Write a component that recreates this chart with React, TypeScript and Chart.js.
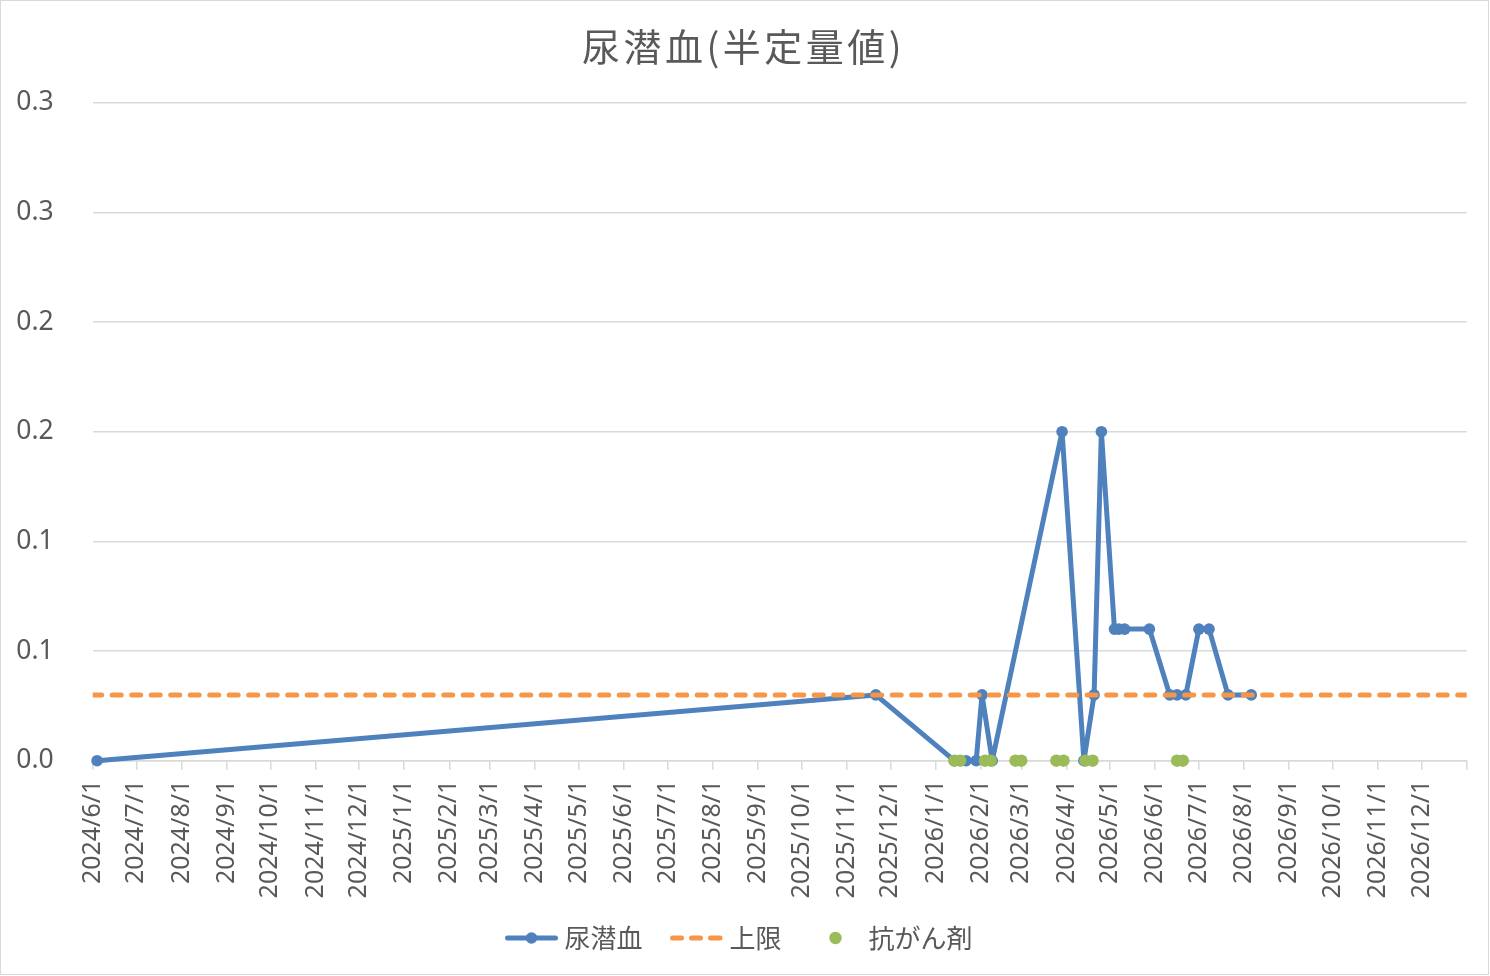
import { useEffect, useRef } from "react";
import { Chart, registerables } from "chart.js";

Chart.register(...registerables);

const TITLE = "尿潜血(半定量値)";
const AXIS_START = "2024/6/1";
const AXIS_END = "2027/1/1";

const bloodLabel = "尿潜血";
const bloodDates = [
  "2024/6/4", "2025/11/21", "2026/1/14", "2026/1/22", "2026/1/29", "2026/2/2",
  "2026/2/9", "2026/3/29", "2026/4/13", "2026/4/20", "2026/4/25", "2026/5/4",
  "2026/5/7", "2026/5/11", "2026/5/28", "2026/6/11", "2026/6/16", "2026/6/22",
  "2026/7/1", "2026/7/8", "2026/7/21", "2026/8/6",
];
const bloodValues = [
  0, 0.03, 0, 0, 0, 0.03,
  0, 0.15, 0, 0.03, 0.15, 0.06,
  0.06, 0.06, 0.06, 0.03, 0.03, 0.03,
  0.06, 0.06, 0.03, 0.03,
];

const limitLabel = "上限";
const limitDates = ["2024/6/1", "2027/1/1"];
const limitValues = [0.03, 0.03];

const drugLabel = "抗がん剤";
const drugDates = [
  "2026/1/14", "2026/1/18", "2026/2/4", "2026/2/8", "2026/2/25", "2026/3/1",
  "2026/3/25", "2026/3/30", "2026/4/14", "2026/4/19", "2026/6/16", "2026/6/20",
];
const drugValues = [0, 0, 0, 0, 0, 0, 0, 0, 0, 0, 0, 0];

const yTickValues = [0, 0.05, 0.1, 0.15, 0.2, 0.25, 0.3];
const yTickLabels = ["0.0", "0.1", "0.1", "0.2", "0.2", "0.3", "0.3"];

const BLUE = "#4F81BD";
const ORANGE = "#F79646";
const GREEN = "#9BBB59";
const TEXT = "#595959";
const GRID = "#d9d9d9";
const FONT = "'Noto Sans', 'Noto Sans CJK JP', sans-serif";
const CJK = "'Noto Sans CJK JP', sans-serif";

function parseDate(s: string): number {
  const [y, m, d] = s.split("/").map(Number);
  return Date.UTC(y, m - 1, d);
}
const START_MS = parseDate(AXIS_START);
function dayIndex(s: string): number {
  return Math.round((parseDate(s) - START_MS) / 86400000);
}

// monthly tick marks from axis start to axis end
const xTickDates: string[] = [];
{
  let y = 2024;
  let m = 6;
  for (;;) {
    const s = `${y}/${m}/1`;
    xTickDates.push(s);
    if (s === AXIS_END) break;
    m += 1;
    if (m > 12) {
      m = 1;
      y += 1;
    }
  }
}
const xTickLabels = xTickDates.map((s) => (s === AXIS_END ? "" : s));

function makeSymbol(kind: "line" | "dash" | "dot"): HTMLCanvasElement {
  const c = document.createElement("canvas");
  c.width = 53;
  c.height = 14;
  const ctx = c.getContext("2d")!;
  const cy = 7;
  if (kind === "line") {
    ctx.strokeStyle = BLUE;
    ctx.lineWidth = 5;
    ctx.lineCap = "round";
    ctx.beginPath();
    ctx.moveTo(2.5, cy);
    ctx.lineTo(50.5, cy);
    ctx.stroke();
    ctx.fillStyle = BLUE;
    ctx.beginPath();
    ctx.arc(26.5, cy, 5.8, 0, Math.PI * 2);
    ctx.fill();
  } else if (kind === "dash") {
    ctx.strokeStyle = ORANGE;
    ctx.lineWidth = 5;
    ctx.lineCap = "round";
    const segs = [
      [2.5, 11.5],
      [21.5, 30.5],
      [40.5, 50],
    ];
    for (const [a, b] of segs) {
      ctx.beginPath();
      ctx.moveTo(a, cy);
      ctx.lineTo(b, cy);
      ctx.stroke();
    }
  } else {
    ctx.fillStyle = GREEN;
    ctx.beginPath();
    ctx.arc(26.5, cy, 6.2, 0, Math.PI * 2);
    ctx.fill();
  }
  return c;
}

const titlePlugin = {
  id: "excelTitle",
  afterDraw(chart: any) {
    const ctx = chart.ctx as CanvasRenderingContext2D;
    ctx.save();
    ctx.font = `normal 38px ${CJK}`;
    ctx.fillStyle = TEXT;
    ctx.textAlign = "center";
    ctx.textBaseline = "middle";
    (ctx as any).letterSpacing = "3.5px";
    ctx.fillText(TITLE, 743.5, 47);
    ctx.restore();
  },
};

export default function App() {
  const ref = useRef<HTMLCanvasElement | null>(null);

  useEffect(() => {
    if (!ref.current) return;
    const symBlood = makeSymbol("line");
    const symLimit = makeSymbol("dash");
    const symDrug = makeSymbol("dot");

    const toPoints = (dates: string[], values: number[]) =>
      dates.map((d, i) => ({ x: dayIndex(d), y: values[i] }));

    const chart = new Chart(ref.current, {
      type: "line",
      plugins: [titlePlugin],
      data: {
        datasets: [
          {
            label: bloodLabel,
            data: toPoints(bloodDates, bloodValues),
            borderColor: BLUE,
            backgroundColor: BLUE,
            borderWidth: 5,
            borderJoinStyle: "round",
            borderCapStyle: "round",
            pointRadius: 5.8,
            pointBackgroundColor: BLUE,
            pointBorderColor: BLUE,
            pointBorderWidth: 0,
            tension: 0,
            clip: 8,
            order: 3,
          },
          {
            label: limitLabel,
            data: toPoints(limitDates, limitValues),
            borderColor: ORANGE,
            backgroundColor: ORANGE,
            borderWidth: 5,
            borderDash: [9, 10.5],
            borderCapStyle: "round",
            pointRadius: 0,
            tension: 0,
            order: 2,
          },
          {
            label: drugLabel,
            data: toPoints(drugDates, drugValues),
            showLine: false,
            borderColor: GREEN,
            backgroundColor: GREEN,
            pointRadius: 6.2,
            pointBackgroundColor: GREEN,
            pointBorderColor: GREEN,
            pointBorderWidth: 0,
            clip: 8,
            order: 1,
          },
        ],
      },
      options: {
        animation: false,
        responsive: true,
        maintainAspectRatio: false,
        events: [],
        layout: { padding: { left: 0, right: 6, top: 102.7, bottom: 15 } },
        font: { family: FONT },
        plugins: {
          title: { display: false },
          legend: {
            display: true,
            position: "bottom",
            labels: {
              usePointStyle: true,
              pointStyleWidth: 40,
              padding: 34,
              color: TEXT,
              font: { size: 26, family: CJK },
              generateLabels: () => [
                { text: bloodLabel, pointStyle: symBlood, fillStyle: BLUE, strokeStyle: BLUE, lineWidth: 0, hidden: false, datasetIndex: 0, fontColor: TEXT },
                { text: limitLabel, pointStyle: symLimit, fillStyle: ORANGE, strokeStyle: ORANGE, lineWidth: 0, hidden: false, datasetIndex: 1, fontColor: TEXT },
                { text: drugLabel, pointStyle: symDrug, fillStyle: GREEN, strokeStyle: GREEN, lineWidth: 0, hidden: false, datasetIndex: 2, fontColor: TEXT },
              ] as any,
            },
          },
          tooltip: { enabled: false },
        },
        scales: {
          x: {
            type: "linear",
            min: dayIndex(AXIS_START),
            max: dayIndex(AXIS_END),
            afterBuildTicks: (s: any) => {
              s.ticks = xTickDates.map((d) => ({ value: dayIndex(d) }));
            },
            afterFit: (s: any) => {
              s.height = 130.3;
              s.paddingLeft = 0;
              s.paddingRight = 23.3;
              s._computeLabelArea = () => undefined;
            },
            ticks: {
              autoSkip: false,
              minRotation: 90,
              maxRotation: 90,
              padding: 10,
              color: TEXT,
              font: { size: 25, family: FONT },
              callback: (_v: any, i: number) => xTickLabels[i] ?? "",
            },
            grid: {
              drawOnChartArea: false,
              drawTicks: true,
              tickLength: 9,
              color: GRID,
              lineWidth: 1.5,
            },
            border: { display: true, color: GRID, width: 1.5 },
          },
          y: {
            type: "linear",
            min: 0,
            max: 0.3,
            afterBuildTicks: (s: any) => {
              s.ticks = yTickValues.map((v) => ({ value: v }));
            },
            afterFit: (s: any) => {
              s.width = 92.7;
              s.paddingTop = 0;
              s.paddingBottom = 0;
            },
            ticks: {
              padding: 39,
              color: TEXT,
              font: { size: 26.5, family: FONT },
              callback: (_v: any, i: number) => yTickLabels[i] ?? "",
            },
            grid: { drawTicks: false, color: GRID, lineWidth: 1.5 },
            border: { display: false },
          },
        },
      } as any,
    });
    return () => chart.destroy();
  }, []);

  return (
    <div style={{ position: "absolute", left: 0, top: 0, width: 1490, height: 976, background: "#fff" }}>
      <canvas ref={ref} />
      <div
        style={{
          position: "absolute",
          left: 0,
          top: 0,
          width: 1489,
          height: 975,
          border: "1.5px solid #d9d9d9",
          boxSizing: "border-box",
          pointerEvents: "none",
        }}
      />
    </div>
  );
}
